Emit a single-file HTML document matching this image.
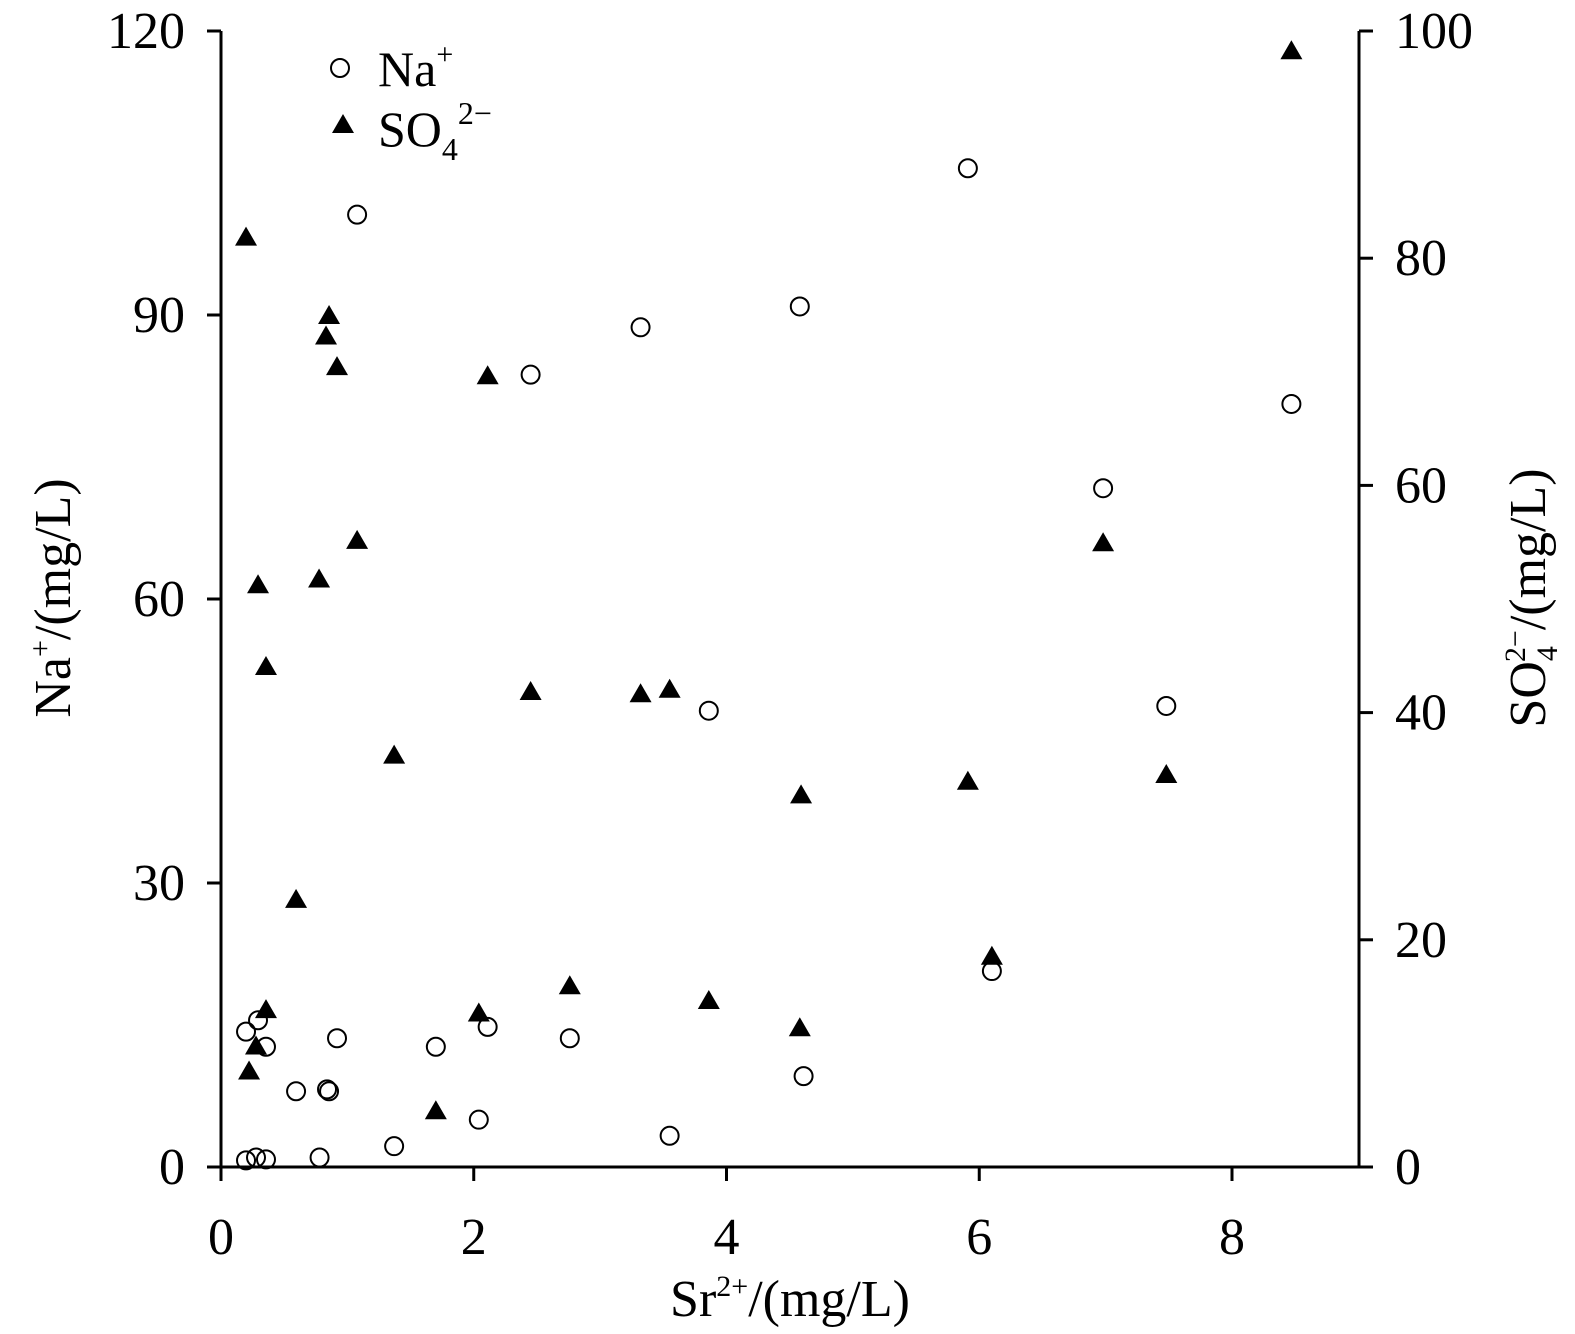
<!DOCTYPE html>
<html><head><meta charset="utf-8"><style>
html,body{margin:0;padding:0;background:#fff;width:1575px;height:1334px;overflow:hidden;position:relative;}
svg{display:block;position:absolute;left:0;top:0;font-family:"Liberation Serif",serif;}
</style></head><body>
<svg id="chart" width="1575" height="1334" viewBox="0 0 1575 1334"></svg>
<svg width="1575" height="1334" style="font-family:'Liberation Serif',serif">
  <g>
    <circle cx="340" cy="68" r="9" fill="none" stroke="#000" stroke-width="2"/>
    <text x="378" y="86" font-size="50">Na<tspan font-size="30" dy="-22">+</tspan></text>
    <polygon points="343,114 332,133 354,133" fill="#000"/>
    <text x="378" y="146" font-size="50">SO<tspan font-size="32" dy="14">4</tspan><tspan font-size="32" dy="-36">2−</tspan></text>
  </g>
  <text x="790" y="1316" font-size="52" text-anchor="middle">Sr<tspan font-size="30" dy="-20">2+</tspan><tspan dy="20">/(mg/L)</tspan></text>
  <text transform="translate(70,598) rotate(-90)" font-size="52" text-anchor="middle">Na<tspan font-size="30" dy="-20">+</tspan><tspan dy="20">/(mg/L)</tspan></text>
  <text transform="translate(1545,598) rotate(-90)" font-size="52" text-anchor="middle">SO<tspan font-size="30" dy="12">4</tspan><tspan font-size="30" dx="-16" dy="-32">2−</tspan><tspan dy="20">/(mg/L)</tspan></text>
</svg>
<script>
const naX=[0.198,0.293,0.356,0.918,0.594,0.839,0.855,1.70,2.11,2.76,2.04,1.37,0.78,0.198,0.277,0.356,1.077,2.45,3.32,3.55,3.86,4.58,4.61,5.91,6.10,6.98,7.48,8.47];
const naY=[14.3,15.5,12.7,13.6,8.0,8.2,8.0,12.7,14.8,13.6,5.0,2.2,1.0,0.7,1.0,0.8,100.6,83.7,88.7,3.3,48.2,90.9,9.6,105.5,20.7,71.7,48.7,80.6];
const soX=[0.198,0.855,0.831,0.918,2.11,1.077,0.293,0.776,0.356,2.45,3.32,3.55,1.37,4.59,5.91,7.48,6.98,8.47,0.594,0.356,0.277,0.222,2.04,2.76,3.86,4.58,6.10,1.70];
const soY=[81.9,75.0,73.2,70.5,69.7,55.2,51.3,51.8,44.1,41.9,41.7,42.1,36.3,32.8,34.0,34.6,55.0,98.3,23.6,13.9,10.7,8.5,13.6,16.0,14.7,12.3,18.6,5.0];
const xTicks=[0,2,4,6,8];
const leftTicks=[0,30,60,90,120];
const rightTicks=[0,20,40,60,80,100];

const X0=221,X1=1359,Y0=1167,Y1=31;
const sx=v=>X0+v*(1232-221)/8;
const syL=v=>Y0-v*(Y0-Y1)/120;
const syR=v=>Y0-v*(Y0-Y1)/100;
const NS="http://www.w3.org/2000/svg";
const svg=document.getElementById('chart');
function mk(t,a,p){const e=document.createElementNS(NS,t);for(const k in a)e.setAttribute(k,a[k]);(p||svg).appendChild(e);return e;}

let e;
e=mk('line',{x1:X0,y1:Y1,x2:X0,y2:Y0,stroke:'#000','stroke-width':3});


e=mk('line',{x1:X1,y1:Y1,x2:X1,y2:Y0,stroke:'#000','stroke-width':3});


e=mk('line',{x1:X0-2,y1:Y0,x2:X1+2,y2:Y0,stroke:'#000','stroke-width':3});



xTicks.forEach(v=>{
  mk('line',{x1:sx(v),y1:Y0,x2:sx(v),y2:Y0+14,stroke:'#000','stroke-width':3});
  const t=mk('text',{x:sx(v),y:1254,'font-size':52,'text-anchor':'middle'});
  t.textContent=v;
  
  
});
leftTicks.forEach(v=>{
  mk('line',{x1:X0-14,y1:syL(v),x2:X0,y2:syL(v),stroke:'#000','stroke-width':3});
  const t=mk('text',{x:X0-36,y:syL(v)+17,'font-size':52,'text-anchor':'end'});
  t.textContent=v;
  
  
});
rightTicks.forEach(v=>{
  mk('line',{x1:X1,y1:syR(v),x2:X1+14,y2:syR(v),stroke:'#000','stroke-width':3});
  const t=mk('text',{x:X1+36,y:syR(v)+17,'font-size':52,'text-anchor':'start'});
  t.textContent=v;
  
  
});

function tri(cx,cy){return `${cx},${cy-10} ${cx-11},${cy+9} ${cx+11},${cy+9}`;}
soX.forEach((x,i)=>{
  const p=mk('polygon',{points:tri(sx(x),syR(soY[i])),fill:'#000'});
  
  
});
naX.forEach((x,i)=>{
  const c=mk('circle',{cx:sx(x),cy:syL(naY[i]),r:9,fill:'none',stroke:'#000','stroke-width':2});
  
  
});
</script>
</body></html>
